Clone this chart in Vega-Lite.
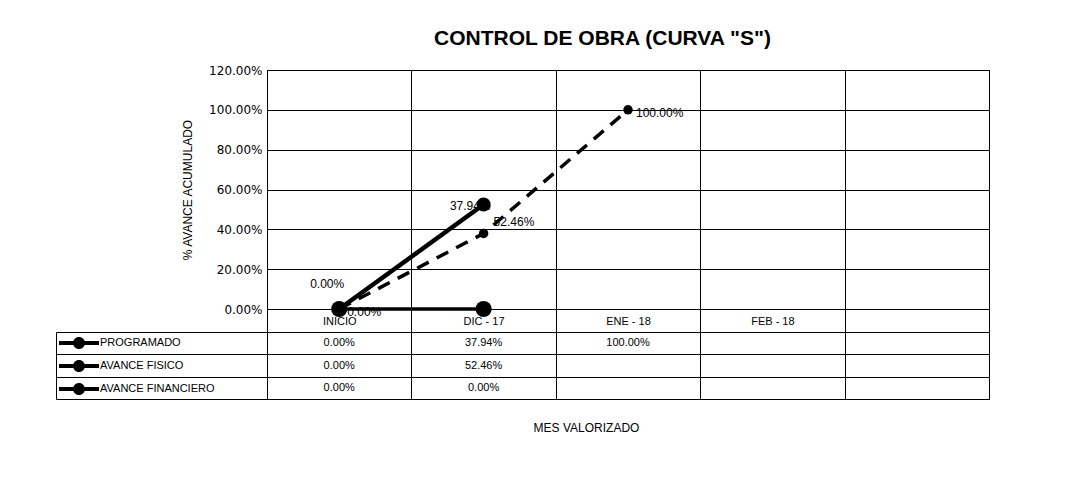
{
  "$schema": "https://vega.github.io/schema/vega-lite/v6.json",
  "padding": {"left": 55, "top": 27, "right": 5, "bottom": 5},
  "background": "white",
  "title": {"text": "CONTROL DE OBRA (CURVA \"S\")", "font": "Liberation Sans", "fontSize": 21, "fontWeight": "bold", "color": "black", "anchor": "middle", "dx": 80, "offset": 15},
  "spacing": 23,
  "bounds": "flush",
  "datasets": {
    "d": [
      {"mes": "INICIO", "serie": "PROGRAMADO", "valor": 0},
      {"mes": "DIC - 17", "serie": "PROGRAMADO", "valor": 0.3794},
      {"mes": "ENE - 18", "serie": "PROGRAMADO", "valor": 1.0},
      {"mes": "INICIO", "serie": "AVANCE FISICO", "valor": 0},
      {"mes": "DIC - 17", "serie": "AVANCE FISICO", "valor": 0.5246},
      {"mes": "INICIO", "serie": "AVANCE FINANCIERO", "valor": 0},
      {"mes": "DIC - 17", "serie": "AVANCE FINANCIERO", "valor": 0}
    ]
  },
  "vconcat": [
    {
      "width": 722,
      "height": 239,
      "data": {"name": "d"},
      "encoding": {
        "x": {
          "field": "mes", "type": "nominal", "sort": null, "bandPosition": 0.5,
          "scale": {"type": "band", "domain": ["INICIO", "DIC - 17", "ENE - 18", "FEB - 18", " "], "paddingInner": 0, "paddingOuter": 0},
          "axis": {"title": null, "orient": "bottom", "tickBand": "extent", "tickSize": 23, "tickColor": "black", "tickWidth": 1, "grid": true, "gridColor": "black", "gridOpacity": 1, "gridWidth": 1, "domain": true, "domainColor": "black", "labelPadding": -17, "labelAngle": 0, "labelFont": "Liberation Sans", "labelFontSize": 11, "labelColor": "black"}
        },
        "y": {
          "field": "valor", "type": "quantitative",
          "scale": {"domain": [0, 1.2]},
          "axis": {"title": "% AVANCE ACUMULADO", "values": [0, 0.2, 0.4, 0.6, 0.8, 1.0, 1.2], "format": ".2%", "grid": true, "gridColor": "black", "gridOpacity": 1, "ticks": false, "domain": false, "labelPadding": 5, "labelFont": "DejaVu Sans", "labelFontSize": 12, "labelColor": "black", "titleFont": "Liberation Sans", "titleFontSize": 12, "titleFontWeight": "normal", "titleColor": "black", "titlePadding": 14}
        }
      },
      "layer": [
        {"transform": [{"filter": "datum.serie === 'PROGRAMADO'"}], "mark": {"type": "line", "color": "black", "strokeWidth": 3.5, "strokeDash": [13, 9]}},
        {"transform": [{"filter": "datum.serie === 'AVANCE FINANCIERO'"}], "mark": {"type": "line", "color": "black", "strokeWidth": 3.5}},
        {"transform": [{"filter": "datum.serie === 'AVANCE FISICO'"}], "mark": {"type": "line", "color": "black", "strokeWidth": 4.5}},
        {"transform": [{"filter": "datum.serie === 'PROGRAMADO' && datum.mes !== 'DIC - 17'"}], "mark": {"type": "text", "align": "left", "dx": 8, "dy": 3, "font": "Liberation Sans", "fontSize": 12, "color": "black"}, "encoding": {"text": {"field": "valor", "type": "quantitative", "format": ".2%"}}},
        {"transform": [{"filter": "datum.serie === 'PROGRAMADO' && datum.mes === 'DIC - 17'"}], "mark": {"type": "text", "align": "right", "dx": 7, "dy": -27, "font": "Liberation Sans", "fontSize": 12, "color": "black"}, "encoding": {"text": {"field": "valor", "type": "quantitative", "format": ".2%"}}},
        {"transform": [{"filter": "datum.serie === 'AVANCE FISICO' && datum.mes === 'INICIO'"}], "mark": {"type": "text", "align": "center", "dx": -12, "dy": -25, "font": "Liberation Sans", "fontSize": 12, "color": "black"}, "encoding": {"text": {"field": "valor", "type": "quantitative", "format": ".2%"}}},
        {"transform": [{"filter": "datum.serie === 'AVANCE FISICO' && datum.mes === 'DIC - 17'"}], "mark": {"type": "text", "align": "left", "dx": 10, "dy": 17, "font": "Liberation Sans", "fontSize": 12, "color": "black"}, "encoding": {"text": {"field": "valor", "type": "quantitative", "format": ".2%"}}},
        {"transform": [{"filter": "datum.serie === 'PROGRAMADO'"}], "mark": {"type": "point", "filled": true, "color": "black", "opacity": 1, "size": 90}},
        {"transform": [{"filter": "datum.serie === 'AVANCE FINANCIERO'"}], "mark": {"type": "point", "filled": true, "color": "black", "opacity": 1, "size": 260}},
        {"transform": [{"filter": "datum.serie === 'AVANCE FISICO'"}], "mark": {"type": "point", "filled": true, "color": "black", "opacity": 1, "size": 200}}
      ]
    },
    {
      "width": 722,
      "height": 67,
      "data": {"name": "d"},
      "layer": [
        {
          "mark": {"type": "text", "font": "Liberation Sans", "fontSize": 11},
          "encoding": {
            "x": {
              "field": "mes", "type": "nominal", "sort": null,
              "scale": {"type": "band", "domain": ["INICIO", "DIC - 17", "ENE - 18", "FEB - 18", " "], "paddingInner": 0, "paddingOuter": 0},
              "axis": {"title": "MES VALORIZADO", "titleX": 319, "titleFont": "Liberation Sans", "titleFontSize": 12, "titleFontWeight": "normal", "titleColor": "black", "titlePadding": 23, "labels": false, "ticks": false, "domain": false, "grid": true, "tickBand": "extent", "gridColor": "black", "gridOpacity": 1}
            },
            "y": {
              "field": "serie", "type": "nominal", "sort": null,
              "scale": {"type": "band", "domain": ["PROGRAMADO", "AVANCE FISICO", "AVANCE FINANCIERO"], "paddingInner": 0, "paddingOuter": 0},
              "axis": {"title": null, "orient": "left", "labels": false, "tickBand": "extent", "tickSize": 211, "tickColor": "black", "grid": true, "gridColor": "black", "gridOpacity": 1, "domain": true, "domainColor": "black"}
            },
            "text": {"field": "valor", "type": "quantitative", "format": ".2%"},
            "color": {
              "field": "serie", "type": "nominal",
              "scale": {"domain": ["PROGRAMADO", "AVANCE FISICO", "AVANCE FINANCIERO"], "range": ["black", "black", "black"]},
              "legend": {"title": null, "orient": "none", "legendX": -198, "legendY": 263, "direction": "vertical", "symbolType": "M-2,-0.2L2,-0.2L2,0.2L-2,0.2Z M-0.6,0A0.6,0.6 0 1,1 0.6,0A0.6,0.6 0 1,1 -0.6,0Z", "symbolSize": 400, "symbolFillColor": "black", "symbolStrokeWidth": 0, "symbolOpacity": 1, "labelFont": "Liberation Sans", "labelFontSize": 11, "labelColor": "black", "labelOffset": 11, "rowPadding": 7, "padding": 0}
            }
          }
        },
        {
          "mark": {"type": "text", "opacity": 0},
          "encoding": {
            "y": {
              "field": "serie", "type": "nominal", "sort": null,
              "scale": {"type": "band", "domain": ["PROGRAMADO", "AVANCE FISICO", "AVANCE FINANCIERO"], "paddingInner": 0, "paddingOuter": 0},
              "axis": {"title": null, "orient": "left", "offset": 211, "labels": false, "ticks": false, "grid": false, "domain": true, "domainColor": "black"}
            },
            "text": {"value": ""}
          }
        }
      ],
      "resolve": {"scale": {"y": "independent"}, "axis": {"y": "independent"}}
    }
  ],
  "config": {
    "view": {"stroke": "black", "strokeWidth": 1},
    "font": "Liberation Sans"
  }
}
